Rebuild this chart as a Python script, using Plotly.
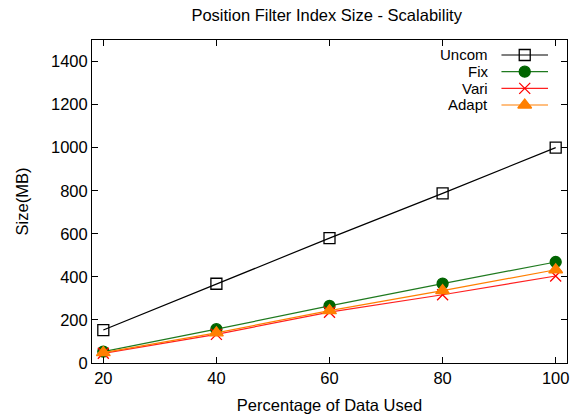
import plotly.graph_objects as go

pct = [20, 40, 60, 80, 100]
uncom = [153, 368, 580, 788, 1000]
fix = [53, 157, 265, 369, 469]
vari = [45, 133, 236, 317, 404]
adapt = [48, 140, 243, 336, 433]

names = ["Uncom", "Fix", "Vari", "Adapt"]
series = [uncom, fix, vari, adapt]
line_colors = ["#000000", "#1f7a1f", "#ff2020", "#ff7f00"]
marker_colors = ["#000000", "#006400", "#ff0000", "#ff7f00"]
symbols = ["square-open", "circle", "x-thin-open", "triangle-up"]
msizes = [11, 11, 11, 12]

FONT = "Liberation Sans, Arial, Helvetica, sans-serif"
FS = 16.5

fig = go.Figure()
for n, s, lc, mc, sym, ms in zip(names, series, line_colors, marker_colors, symbols, msizes):
    fig.add_trace(go.Scatter(
        x=pct, y=s, mode="lines+markers", name=n, showlegend=False,
        line=dict(color=lc, width=1.2),
        marker=dict(symbol=sym, size=ms, color=mc,
                    line=dict(color=mc, width=1.3)),
        xaxis="x", yaxis="y"))

# manual legend (text left of sample, like gnuplot)
leg_y = [0.9536, 0.9019, 0.8502, 0.7988]
for n, yy, lc, mc, sym, ms in zip(names, leg_y, line_colors, marker_colors, symbols, msizes):
    fig.add_trace(go.Scatter(
        x=[0.862, 0.960], y=[yy, yy], mode="lines", showlegend=False,
        line=dict(color=lc, width=1.2), xaxis="x2", yaxis="y2", hoverinfo="skip"))
    fig.add_trace(go.Scatter(
        x=[0.911], y=[yy], mode="markers", showlegend=False,
        marker=dict(symbol=sym, size=ms, color=mc, line=dict(color=mc, width=1.3)),
        xaxis="x2", yaxis="y2", hoverinfo="skip"))
    fig.add_annotation(x=0.838, y=yy, xref="paper", yref="paper", text=n,
                       showarrow=False, xanchor="right", yanchor="middle",
                       font=dict(family=FONT, size=15, color="#000000"))

fig.update_layout(
    width=574, height=416,
    margin=dict(l=92, r=5, t=40, b=53),
    plot_bgcolor="white", paper_bgcolor="white",
    font=dict(family=FONT, size=FS, color="#000000"),
    title=dict(text="Position Filter Index Size - Scalability", x=0.494, xref="paper",
               xanchor="center", y=1 - 15 / 416, yanchor="middle",
               font=dict(family=FONT, size=FS)),
    xaxis=dict(range=[18, 102], tickvals=pct, ticks="inside", ticklen=6,
               tickcolor="#000000", showline=True, linecolor="#000000", linewidth=1,
               mirror="allticks", showgrid=False, zeroline=False,
               title=dict(text="Percentage of Data Used", font=dict(size=FS), standoff=13),
               tickfont=dict(size=FS)),
    yaxis=dict(range=[0, 1500], tickvals=[0, 200, 400, 600, 800, 1000, 1200, 1400],
               ticks="inside", ticklen=6, tickcolor="#000000", showline=True,
               linecolor="#000000", linewidth=1, mirror="allticks", showgrid=False,
               zeroline=False,
               title=dict(text="Size(MB)", font=dict(size=FS), standoff=18),
               tickfont=dict(size=FS)),
    xaxis2=dict(range=[0, 1], overlaying="x", visible=False, anchor="y2"),
    yaxis2=dict(range=[0, 1], overlaying="y", visible=False, anchor="x2"),
)

fig.write_html("out.html")
